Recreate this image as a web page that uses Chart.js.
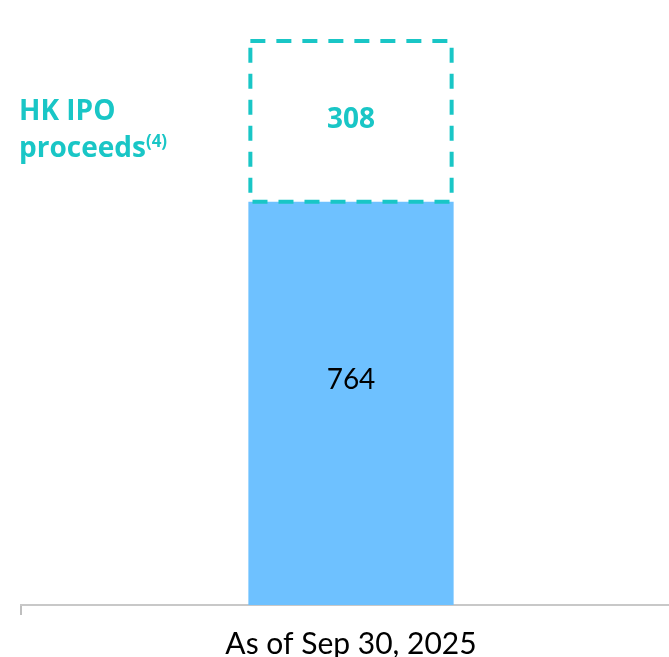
<!DOCTYPE html>
<html>
<head>
<meta charset="utf-8">
<script src="https://cdn.jsdelivr.net/npm/chart.js@4/dist/chart.umd.min.js"></script>
<style>
  html,body{margin:0;padding:0;background:#fff;overflow:hidden;width:669px;height:657px;}
  #wrap{position:relative;width:681px;height:657px;}
  .note{position:absolute;left:19px;top:94px;color:#19c6c6;font:bold 28px "Open Sans",sans-serif;line-height:31px;}
  .note sup{font-size:17px;vertical-align:10px;}
</style>
</head>
<body>
<div id="wrap">
  <canvas id="c" width="681" height="657"></canvas>
  <div class="note">HK IPO<br>proceeds<sup>(4)</sup></div>
</div>
<script>
const categories = ['As of Sep 30, 2025'];
const existingCash = [764];
const ipoProceeds = [308];

const blue = '#6ec1ff';
const teal = '#19c6c6';

// dashed outline + value labels drawn on the bars
const barDecor = {
  id:'barDecor',
  afterDatasetsDraw(chart){
    const ctx = chart.ctx;
    const low = chart.getDatasetMeta(0).data[0];
    const top = chart.getDatasetMeta(1).data[0];
    ctx.save();
    // dashed box
    ctx.strokeStyle = teal; ctx.lineWidth = 4; ctx.setLineDash([15,11]);
    const l = top.x - top.width/2, r = top.x + top.width/2;
    ctx.strokeRect(l+2, top.y+2, r-l-4, top.base - top.y - 2);
    ctx.setLineDash([]);
    ctx.textAlign = 'center'; ctx.textBaseline = 'middle';
    ctx.fillStyle = '#000'; ctx.font = '28px "Lato", sans-serif';
    ctx.fillText(String(existingCash[0]), low.x, low.y + (low.base - low.y)*0.443);
    ctx.fillStyle = teal; ctx.font = 'bold 28px "Open Sans", sans-serif';
    ctx.fillText(String(ipoProceeds[0]), top.x, (top.y + top.base)/2);
    ctx.restore();
  }
};

new Chart(document.getElementById('c'), {
  type:'bar',
  data:{ labels:categories, datasets:[
    {data:existingCash, backgroundColor:blue, borderWidth:0},
    {data:ipoProceeds, backgroundColor:'rgba(0,0,0,0)', borderWidth:0}
  ]},
  options:{
    responsive:false, animation:false,
    layout:{padding:{left:21,right:0,top:0,bottom:-16}},
    datasets:{bar:{categoryPercentage:1, barPercentage:0.311}},
    plugins:{legend:{display:false}, tooltip:{enabled:false}},
    scales:{
      x:{stacked:true,
        grid:{drawOnChartArea:false, tickLength:10, color:'#bfbfbf', lineWidth:2},
        border:{color:'#c8c8c8', width:2},
        ticks:{color:'#000', font:{family:'Lato', size:30, lineHeight:1}, padding:14}},
      y:{stacked:true, display:false, min:0, max:1146}
    }
  },
  plugins:[barDecor]
});
</script>
</body>
</html>
